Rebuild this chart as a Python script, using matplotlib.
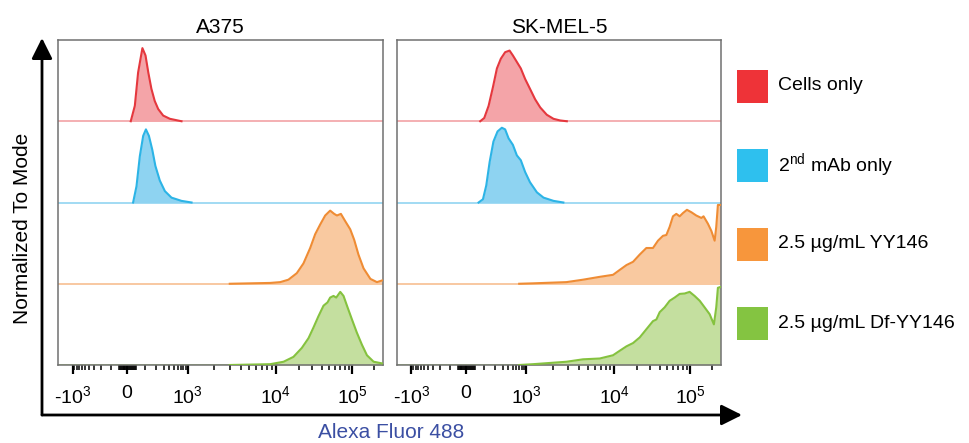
import numpy as np
import matplotlib
matplotlib.use("Agg")
import matplotlib.pyplot as plt
from matplotlib.patches import FancyArrowPatch, Rectangle

plt.rcParams["font.family"] = ["Liberation Sans", "DejaVu Sans"]
plt.rcParams["mathtext.fontset"] = "custom"
plt.rcParams["mathtext.rm"] = "Liberation Sans"
plt.rcParams["mathtext.it"] = "Liberation Sans:italic"
plt.rcParams["mathtext.bf"] = "Liberation Sans:bold"

# ---- data: normalized-to-mode histograms, x in fluorescence units ----
panels = ["A375", "SK-MEL-5"]
labels = ["Cells only", "2$^{\\rm nd}$ mAb only", "2.5 µg/mL YY146", "2.5 µg/mL Df-YY146"]
line_colors = ["#e5383e", "#2cb4e6", "#ef8c34", "#85c23f"]
fill_colors = ["#f4a4a8", "#8ed3f1", "#f9c9a0", "#c4df9f"]
base_colors = ["#f3a9ac", "#9ad8f2", "#f8c49a", "#b9da90"]
legend_colors = ["#ee3338", "#2ec0ee", "#f7963c", "#84c441"]

a375_cells_x = [18, 39, 57, 83, 104, 125, 151, 183, 222, 289, 409, 733]
a375_cells_y = [0, 0.19, 0.6, 0.9, 0.81, 0.6, 0.4, 0.25, 0.15, 0.07, 0.03, 0]
a375_mab_x = [30, 48, 67, 88, 107, 130, 159, 190, 242, 316, 443, 733, 1105]
a375_mab_y = [0, 0.2, 0.57, 0.82, 0.9, 0.82, 0.65, 0.45, 0.27, 0.14, 0.06, 0.02, 0]
a375_yy_x = [3000, 8600, 11400, 14600, 18800, 23000, 28200, 32800, 38200, 44400, 51600,
             58300, 63300, 71400, 81400, 94700, 107000, 122000, 143000, 177000, 217000, 254000]
a375_yy_y = [0, 0.01, 0.02, 0.05, 0.13, 0.25, 0.44, 0.61, 0.73, 0.84, 0.9,
             0.86, 0.84, 0.86, 0.77, 0.67, 0.54, 0.36, 0.19, 0.06, 0.02, 0.04]
a375_df_x = [3000, 8600, 12600, 17000, 21900, 26800, 31100, 36200, 42200, 47600, 51600,
             57100, 62000, 70000, 77300, 87300, 99800, 116000, 136000, 159000, 196000, 254000]
a375_df_y = [0, 0.01, 0.04, 0.1, 0.21, 0.33, 0.46, 0.6, 0.73, 0.77, 0.83,
             0.85, 0.83, 0.9, 0.85, 0.71, 0.56, 0.4, 0.25, 0.12, 0.04, 0.02]

sk_cells_x = [77, 104, 138, 178, 222, 274, 343, 430, 509, 622, 759, 942, 1100, 1260,
              1440, 1710, 2040, 2420, 2890]
sk_cells_y = [0, 0.04, 0.19, 0.42, 0.65, 0.77, 0.85, 0.87, 0.81, 0.73, 0.65, 0.52, 0.4,
              0.27, 0.17, 0.08, 0.03, 0.01, 0]
sk_mab_x = [67, 95, 119, 147, 183, 230, 289, 343, 409, 509, 622, 759, 942, 1100, 1320,
            1570, 2040, 2640]
sk_mab_y = [0, 0.04, 0.21, 0.5, 0.75, 0.875, 0.92, 0.9, 0.79, 0.71, 0.58, 0.52, 0.375,
            0.25, 0.125, 0.06, 0.02, 0]
sk_yy_x = [700, 1190, 2860, 4420, 6840, 9690, 11800, 14500, 17700, 21700, 26500, 32400,
           37700, 43900, 48600, 53700, 59400, 65800, 72800, 80400, 90800, 104000, 121000,
           142000, 152000, 174000, 194000, 215000, 226000, 238000, 257000]
sk_yy_y = [0, 0.005, 0.02, 0.05, 0.085, 0.11, 0.17, 0.23, 0.27, 0.36, 0.44, 0.44,
           0.53, 0.59, 0.6, 0.7, 0.83, 0.86, 0.83, 0.87, 0.91, 0.88, 0.84,
           0.81, 0.83, 0.74, 0.65, 0.53, 0.7, 0.97, 0.97]
sk_df_x = [700, 1190, 2860, 4420, 6840, 9690, 11800, 14500, 17700, 21700, 26500, 32400,
           35900, 39700, 46200, 53700, 62500, 72800, 84700, 98500, 115000, 135000, 157000,
           184000, 210000, 226000, 238000, 257000]
sk_df_y = [0, 0.01, 0.04, 0.07, 0.08, 0.12, 0.175, 0.23, 0.27, 0.34, 0.44, 0.54,
           0.56, 0.65, 0.71, 0.79, 0.83, 0.875, 0.88, 0.9, 0.85, 0.79, 0.71,
           0.625, 0.5, 0.71, 0.95, 0.96]

curves = {
    "A375": [(a375_cells_x, a375_cells_y), (a375_mab_x, a375_mab_y),
             (a375_yy_x, a375_yy_y), (a375_df_x, a375_df_y)],
    "SK-MEL-5": [(sk_cells_x, sk_cells_y), (sk_mab_x, sk_mab_y),
                 (sk_yy_x, sk_yy_y), (sk_df_x, sk_df_y)],
}

# ---- biexponential-like axis (FlowJo style) ----
XMIN, XMAX = -2200, 262144
anchor_v = np.array([XMIN, -1000, 0, 1000, 1e4, 1e5, XMAX])
anchor_p = np.array([0, 14.5, 69, 129.5, 217.5, 293.5, 324.4])
anchor_u = np.arcsinh(anchor_v / 100)


def biex(v):
    return np.interp(np.arcsinh(np.asarray(v, dtype=float) / 100), anchor_u, anchor_p)


def biex_inv(p):
    return 100 * np.sinh(np.interp(np.asarray(p, dtype=float), anchor_p, anchor_u))


major_ticks = [-1000, 0, 1000, 1e4, 1e5]
major_labels = ["-$10^3$", "0", "$10^3$", "$10^4$", "$10^5$"]
minor_ticks = ([-m * 100 for m in range(1, 10)]
               + [v for v in range(-45, 50, 5) if v != 0]
               + [m * 100 for m in range(1, 10)]
               + [m * 10 ** k for k in (3, 4) for m in range(2, 10)] + [2e5])

W, H = 970, 443
fig = plt.figure(figsize=(W / 100, H / 100), dpi=100)

boxes = {"A375": (58, 40, 325, 325), "SK-MEL-5": (397, 40, 324, 325)}
for name in panels:
    x0, y0, w, h = boxes[name]
    ax = fig.add_axes([x0 / W, 1 - (y0 + h) / H, w / W, h / H])
    ax.set_xscale("function", functions=(biex, biex_inv))
    n = len(curves[name])
    for i, (xs, ys) in enumerate(curves[name]):
        base = n - 1 - i
        xs = np.array(xs, dtype=float)
        ys = np.array(ys, dtype=float)
        ax.axhline(base, color=base_colors[i], lw=1.3, zorder=1)
        ax.fill_between(xs, base, base + ys, color=fill_colors[i], lw=0, zorder=2)
        ax.plot(xs, base + ys, color=line_colors[i], lw=1.5, zorder=3)
    ax.set_xlim(XMIN, XMAX)
    ax.set_ylim(0, n)
    ax.set_yticks([])
    ax.set_xticks(major_ticks, major_labels, fontsize=14)
    ax.set_xticks(minor_ticks, minor=True)
    ax.tick_params(axis="x", which="major", direction="out", length=6.5, width=1.6,
                   pad=8, color="black")
    ax.tick_params(axis="x", which="minor", direction="out", length=3.5, width=1.1,
                   color="black")
    for s in ax.spines.values():
        s.set_color("#707070")
        s.set_linewidth(1.1)
    ax.set_title(name, fontsize=15, pad=5)

# big axis arrows
corner = (42 / W, 1 - 415 / H)
for tip in [(42 / W, 1 - 38 / H), (742 / W, 1 - 415 / H)]:
    fig.add_artist(FancyArrowPatch(corner, tip, transform=fig.transFigure,
                                   arrowstyle="-|>,head_length=0.7,head_width=0.35",
                                   mutation_scale=18, lw=2, color="black",
                                   shrinkA=0, shrinkB=0))

fig.text(23 / W, 1 - 228 / H, "Normalized To Mode", rotation=90, fontsize=15,
         ha="center", va="center")
fig.text(391 / W, 1 - 432 / H, "Alexa Fluor 488", fontsize=15, color="#3b4fa3",
         ha="center", va="center")

# legend
for i, lab in enumerate(labels):
    yc = 86 + 79 * i
    fig.add_artist(Rectangle((737 / W, 1 - (yc + 16.5) / H), 31 / W, 33 / H,
                             transform=fig.transFigure, color=legend_colors[i], lw=0))
    fig.text(778 / W, 1 - yc / H, lab, fontsize=14, ha="left", va="center")

fig.savefig("out.png", dpi=100)
